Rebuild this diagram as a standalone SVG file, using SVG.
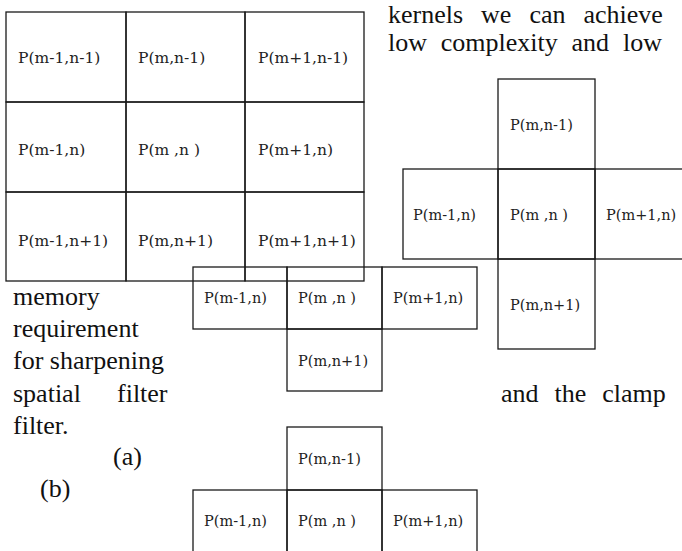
<svg xmlns="http://www.w3.org/2000/svg" width="682" height="551" viewBox="0 0 682 551">
<style>
.c{fill:none;stroke:#1a1a1a;stroke-width:1.3}
.g{font-family:'DejaVu Serif',serif;font-size:15.5px;fill:#222}
.k{font-family:'DejaVu Serif',serif;font-size:14.5px;fill:#222}
.p{font-family:'Liberation Serif',serif;font-size:26px;fill:#111}
</style>
<rect width="682" height="551" fill="#fff"/>
<g id="body-text" font-family="Liberation Serif, serif">
<text class="p" x="388" y="23" word-spacing="11.5">kernels we can achieve</text>
<text class="p" x="388" y="51" word-spacing="7.3">low complexity and low</text>
<text class="p" x="13" y="305">memory</text>
<text class="p" x="13" y="337">requirement</text>
<text class="p" x="13" y="369">for sharpening</text>
<text class="p" x="13" y="402">spatial</text>
<text class="p" x="117" y="402">filter</text>
<text class="p" x="501" y="402" word-spacing="9.5">and the clamp</text>
<text class="p" x="13" y="434">filter.</text>
<text class="p" x="113" y="465">(a)</text>
<text class="p" x="40" y="497">(b)</text>
</g>
<g id="grid3x3" font-family="DejaVu Serif, serif">
<g id="g11"><rect class="c" x="6" y="12" width="120" height="90"/><text class="g" x="18" y="63">P(m-1,n-1)</text></g>
<g id="g12"><rect class="c" x="126" y="12" width="119" height="90"/><text class="g" x="138" y="63">P(m,n-1)</text></g>
<g id="g13"><rect class="c" x="245" y="12" width="119" height="90"/><text class="g" x="258" y="63">P(m+1,n-1)</text></g>
<g id="g21"><rect class="c" x="6" y="102" width="120" height="90"/><text class="g" x="18" y="155">P(m-1,n)</text></g>
<g id="g22"><rect class="c" x="126" y="102" width="119" height="90"/><text class="g" x="138" y="155">P(m ,n )</text></g>
<g id="g23"><rect class="c" x="245" y="102" width="119" height="90"/><text class="g" x="258" y="155">P(m+1,n)</text></g>
<g id="g31"><rect class="c" x="6" y="192" width="120" height="89"/><text class="g" x="18" y="246">P(m-1,n+1)</text></g>
<g id="g32"><rect class="c" x="126" y="192" width="119" height="89"/><text class="g" x="138" y="246">P(m,n+1)</text></g>
<g id="g33"><rect class="c" x="245" y="192" width="119" height="89"/><text class="g" x="258" y="246">P(m+1,n+1)</text></g>
</g>
<g id="cross-right" font-family="DejaVu Serif, serif">
<g id="r-top"><rect class="c" x="498" y="79" width="97" height="90"/><text class="k" x="510" y="130">P(m,n-1)</text></g>
<g id="r-left"><rect class="c" x="403" y="169" width="95" height="90"/><text class="k" x="413" y="220">P(m-1,n)</text></g>
<g id="r-center"><rect class="c" x="498" y="169" width="97" height="90"/><text class="k" x="510" y="220">P(m ,n )</text></g>
<g id="r-right"><rect class="c" x="595" y="169" width="90" height="90"/><text class="k" x="606" y="220">P(m+1,n)</text></g>
<g id="r-bottom"><rect class="c" x="498" y="259" width="97" height="90"/><text class="k" x="510" y="310">P(m,n+1)</text></g>
</g>
<g id="cross-middle" font-family="DejaVu Serif, serif">
<g id="m-left"><rect class="c" x="193" y="267" width="94" height="62"/><text class="k" x="204" y="303">P(m-1,n)</text></g>
<g id="m-center"><rect class="c" x="287" y="267" width="95" height="62"/><text class="k" x="298" y="303">P(m ,n )</text></g>
<g id="m-right"><rect class="c" x="382" y="267" width="95" height="62"/><text class="k" x="393" y="303">P(m+1,n)</text></g>
<g id="m-bottom"><rect class="c" x="287" y="329" width="95" height="62"/><text class="k" x="298" y="366">P(m,n+1)</text></g>
</g>
<g id="cross-bottom" font-family="DejaVu Serif, serif">
<g id="b-top"><rect class="c" x="287" y="427" width="95" height="63"/><text class="k" x="298" y="464">P(m,n-1)</text></g>
<g id="b-left"><rect class="c" x="193" y="490" width="94" height="64"/><text class="k" x="204" y="526">P(m-1,n)</text></g>
<g id="b-center"><rect class="c" x="287" y="490" width="95" height="64"/><text class="k" x="298" y="526">P(m ,n )</text></g>
<g id="b-right"><rect class="c" x="382" y="490" width="95" height="64"/><text class="k" x="393" y="526">P(m+1,n)</text></g>
</g>
<g id="connectors"/>
</svg>
